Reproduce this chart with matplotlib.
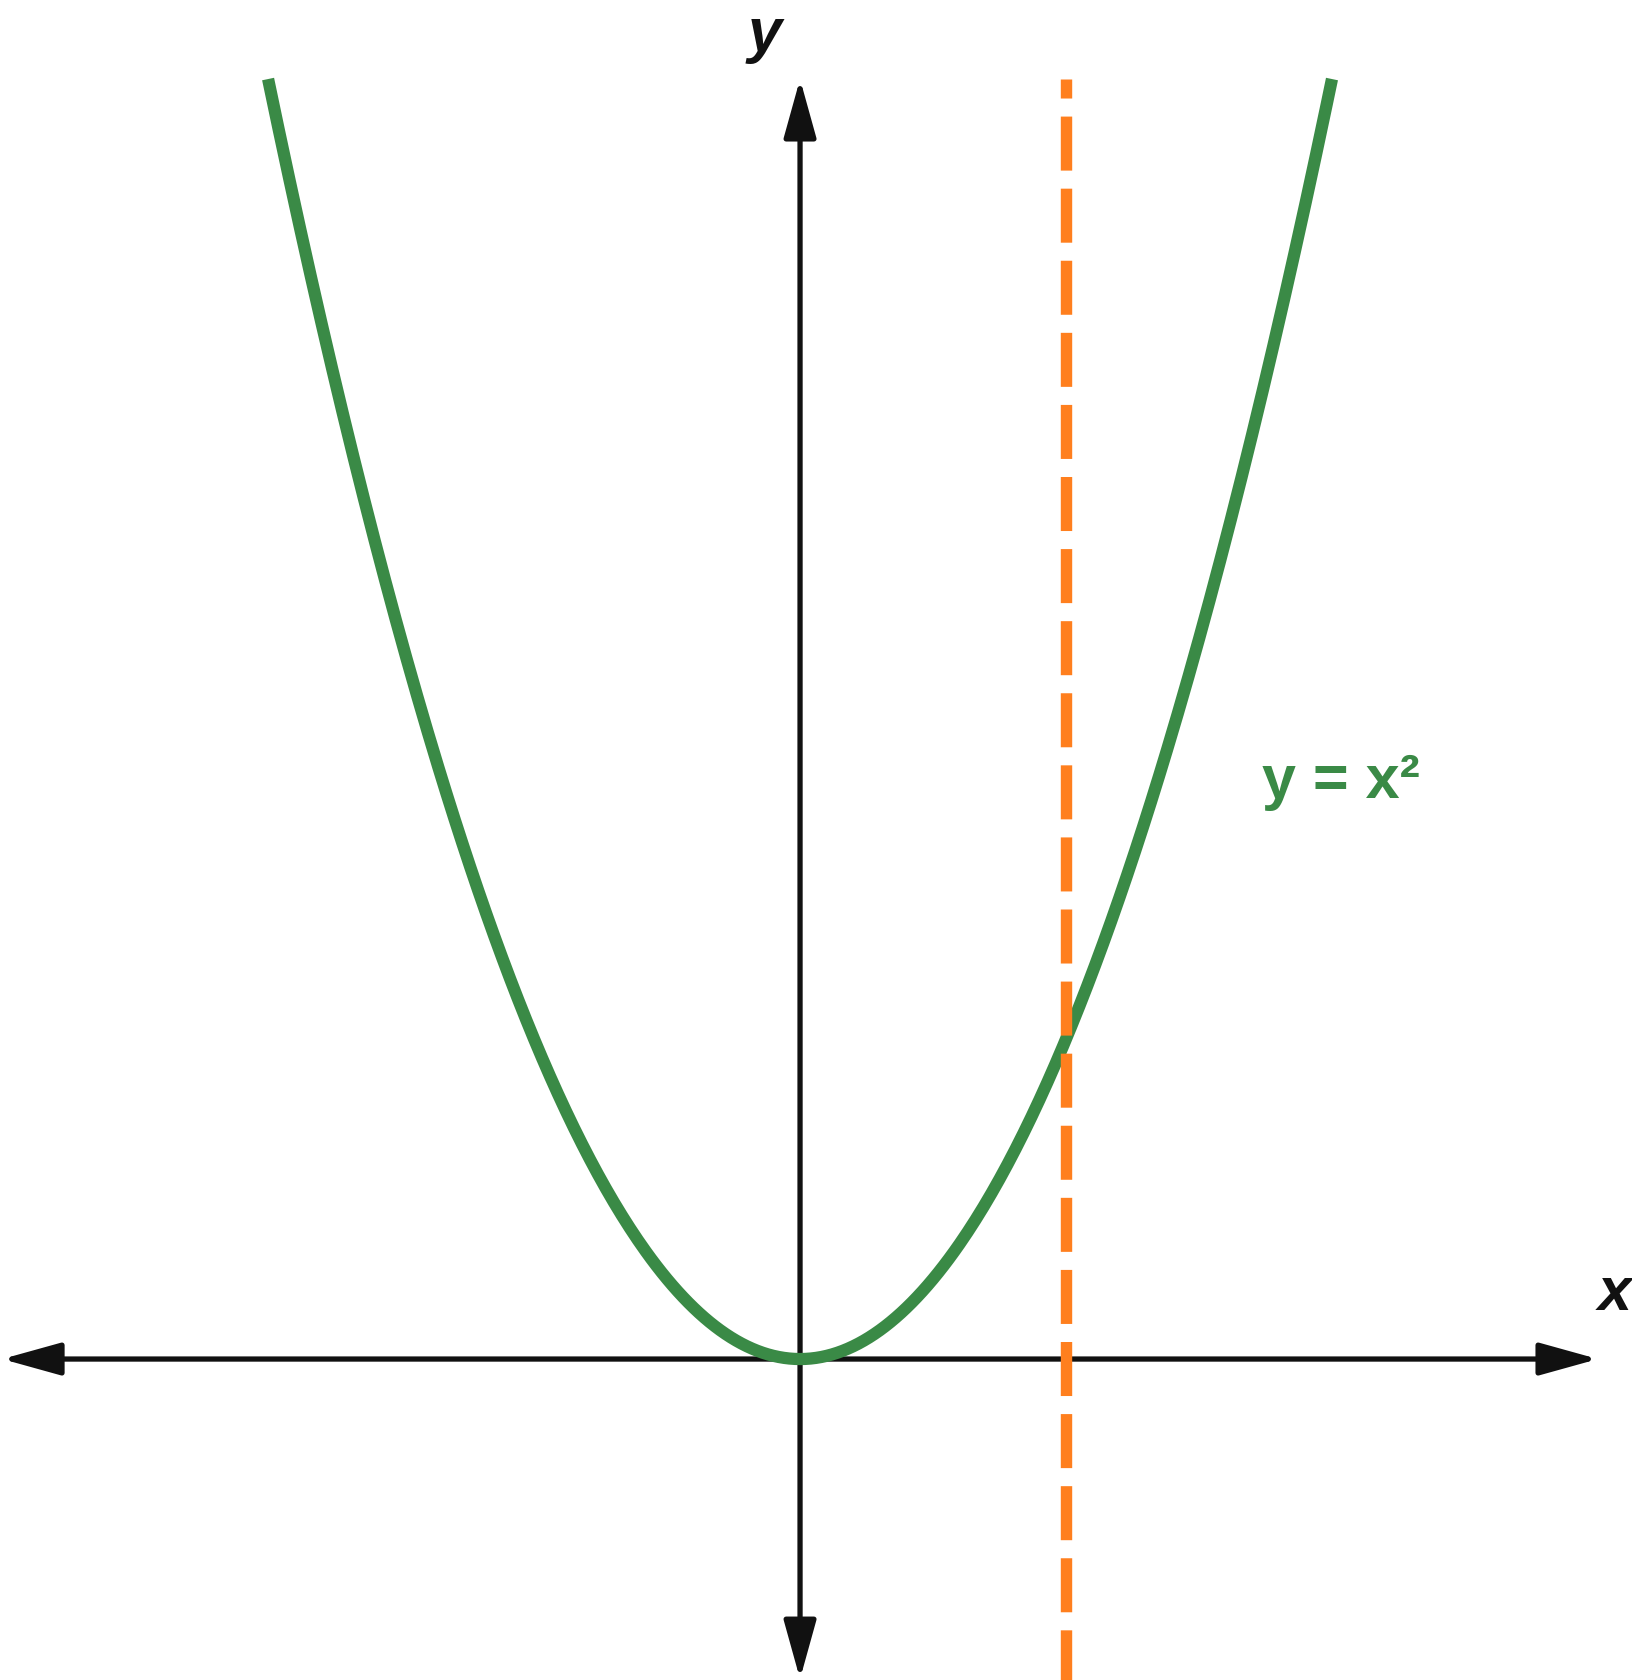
import numpy as np
import matplotlib
matplotlib.use('Agg')
import matplotlib.pyplot as plt

plt.rcParams['font.family'] = ['Liberation Sans', 'DejaVu Sans']
plt.rcParams['lines.scale_dashes'] = False

# 데이터
curve_x = np.linspace(-2, 2, 401)      # 포물선 구간
curve_y = curve_x ** 2                 # y = x^2
line_x = [1, 1]                        # 세로 점선 x = 1
line_y = [4, -1.05]
x_axis_range = [-3, 3]
y_axis_range = [-1, 4]
curve_label = 'y = x²'

green = '#3a8a46'
orange = '#ff7f1e'
black = '#111111'

fig = plt.figure(figsize=(16.32, 16.8), dpi=100)
ax = fig.add_axes([0, 0, 1, 1])
ax.set_xlim(-3.008, 3.128)
ax.set_ylim(-1.003, 4.247)
ax.axis('off')

# 축 (양쪽 화살표)
arrow = dict(arrowstyle='<|-|>,head_length=0.36,head_width=0.1', mutation_scale=100,
             lw=3.8, color=black, shrinkA=0, shrinkB=0)
ax.annotate('', xy=(x_axis_range[1], 0), xytext=(x_axis_range[0], 0), arrowprops=arrow, zorder=1)
ax.annotate('', xy=(0, y_axis_range[1]), xytext=(0, y_axis_range[0]), arrowprops=arrow, zorder=1)

# 포물선
ax.plot(curve_x, curve_y, color=green, lw=8.8, zorder=2, solid_capstyle='butt')

# 점선
ax.plot(line_x, line_y, color=orange, lw=8.2, zorder=3,
        linestyle=(25.2, (38.9, 13.0)), dash_capstyle='butt')

# 글자
ax.text(-0.132, 4.0875, 'y', fontsize=44, fontstyle='italic', fontweight='bold',
        color=black, ha='center', va='baseline')
ax.text(3.062, 0.153, 'x', fontsize=44, fontstyle='italic', fontweight='bold',
        color=black, ha='center', va='baseline')
ax.text(1.737, 1.753, curve_label, fontsize=44, fontweight='bold',
        color=green, ha='left', va='baseline')

fig.savefig('out.png', dpi=100)
